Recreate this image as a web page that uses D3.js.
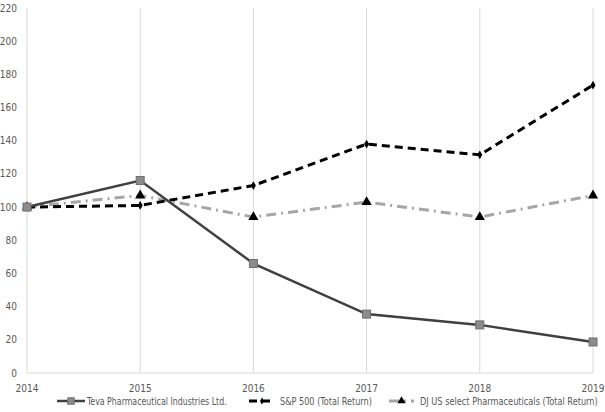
<!DOCTYPE html>
<html><head><meta charset="utf-8">
<script src="https://cdn.jsdelivr.net/npm/d3@7"></script>
<style>body{margin:0;background:#fff}svg{display:block}text{font-family:"DejaVu Sans Condensed","DejaVu Sans",sans-serif;font-stretch:condensed}</style>
</head><body><svg id="c" width="605" height="412"></svg>
<script>
const years = [2014, 2015, 2016, 2017, 2018, 2019];
const yTicks = [0, 20, 40, 60, 80, 100, 120, 140, 160, 180, 200, 220];
const teva = [100, 116, 66, 35.5, 29, 18.7];
const sp500 = [100, 101, 113, 138, 131.5, 173.5];
const djPharma = [100, 107, 94, 103, 94, 107];
const seriesNames = ["Teva Pharmaceutical Industries Ltd.", "S&P 500 (Total Return)", "DJ US select Pharmaceuticals (Total Return)"];

const svg = d3.select("#c");
const x = d3.scaleLinear().domain([2014, 2019]).range([27, 593]);
const y = d3.scaleLinear().domain([0, 220]).range([373, 8]);

// vertical gridlines
svg.append("g").selectAll("line").data(years).join("line")
  .attr("x1", d => x(d)).attr("x2", d => x(d)).attr("y1", y(220)).attr("y2", y(0))
  .attr("stroke", "#d9d9d9").attr("stroke-width", 1);
svg.append("line").attr("x1", x(2014)).attr("x2", x(2019)).attr("y1", y(0)).attr("y2", y(0))
  .attr("stroke", "#d9d9d9");

// y tick labels
svg.append("g").selectAll("text").data(yTicks).join("text")
  .attr("x", 17).attr("y", d => y(d)).attr("dy", "0.35em").attr("text-anchor", "end")
  .attr("font-size", 10).attr("fill", "#595959").text(d => d);
// x tick labels
svg.append("g").selectAll("text").data(years).join("text")
  .attr("x", d => x(d)).attr("y", 388).attr("dy", "0.35em").attr("text-anchor", "middle")
  .attr("font-size", 10).attr("fill", "#595959").text(d => d);

const line = d3.line().x((d, i) => x(years[i])).y(d => y(d));

const styles = [
  {data: teva, stroke: "#404040", width: 2.5, dash: null, marker: "square"},
  {data: sp500, stroke: "#000000", width: 3, dash: "8,5", marker: "diamond"},
  {data: djPharma, stroke: "#a6a6a6", width: 3, dash: "10,5,2,5", marker: "triangle"}
];
[2, 1, 0].forEach(k => {
  const s = styles[k];
  svg.append("path").datum(s.data).attr("d", line).attr("fill", "none")
    .attr("stroke", s.stroke).attr("stroke-width", s.width)
    .attr("stroke-dasharray", s.dash);
});
function drawMarker(g, type, cx, cy, sc) {
  sc = sc || 1;
  if (type === "square") {
    const h = 4 * sc;
    g.append("rect").attr("x", cx - h).attr("y", cy - h).attr("width", 2 * h).attr("height", 2 * h)
      .attr("fill", "#8c8c8c").attr("stroke", "#6f6f6f").attr("stroke-width", 1);
  } else if (type === "diamond") {
    g.append("path").attr("d", d3.symbol(d3.symbolDiamond, 22 * sc * sc)()).attr("transform", `translate(${cx},${cy})`)
      .attr("fill", "#000");
  } else {
    g.append("path").attr("d", d3.symbol(d3.symbolTriangle, 45 * sc * sc)()).attr("transform", `translate(${cx},${cy})`)
      .attr("fill", "#000");
  }
}
[2, 1, 0].forEach(k => {
  const s = styles[k];
  const g = svg.append("g");
  s.data.forEach((v, i) => drawMarker(g, s.marker, x(years[i]), y(v)));
});

// legend
const legX = [57, 249, 389];
const legW = [28, 26, 25];
const txtX = [87, 280, 420];
const txtW = [140, 92, 178];
const ly = 401;
styles.forEach((s, k) => {
  const g = svg.append("g");
  g.append("line").attr("x1", legX[k]).attr("x2", legX[k] + legW[k]).attr("y1", ly).attr("y2", ly)
    .attr("stroke", s.stroke).attr("stroke-width", s.width).attr("stroke-dasharray", s.dash);
  drawMarker(g, s.marker, legX[k] + legW[k] / 2, ly, 0.8);
  const tg = g.append("g").attr("transform", `translate(${txtX[k]},${ly})`);
  const t = tg.append("text").attr("x", 0).attr("y", 0).attr("dy", "0.35em")
    .attr("font-size", 10).attr("fill", "#595959").text(seriesNames[k]);
  const natural = t.node().getComputedTextLength();
  t.attr("transform", `scale(${txtW[k] / natural},1)`);
});
</script></body></html>
